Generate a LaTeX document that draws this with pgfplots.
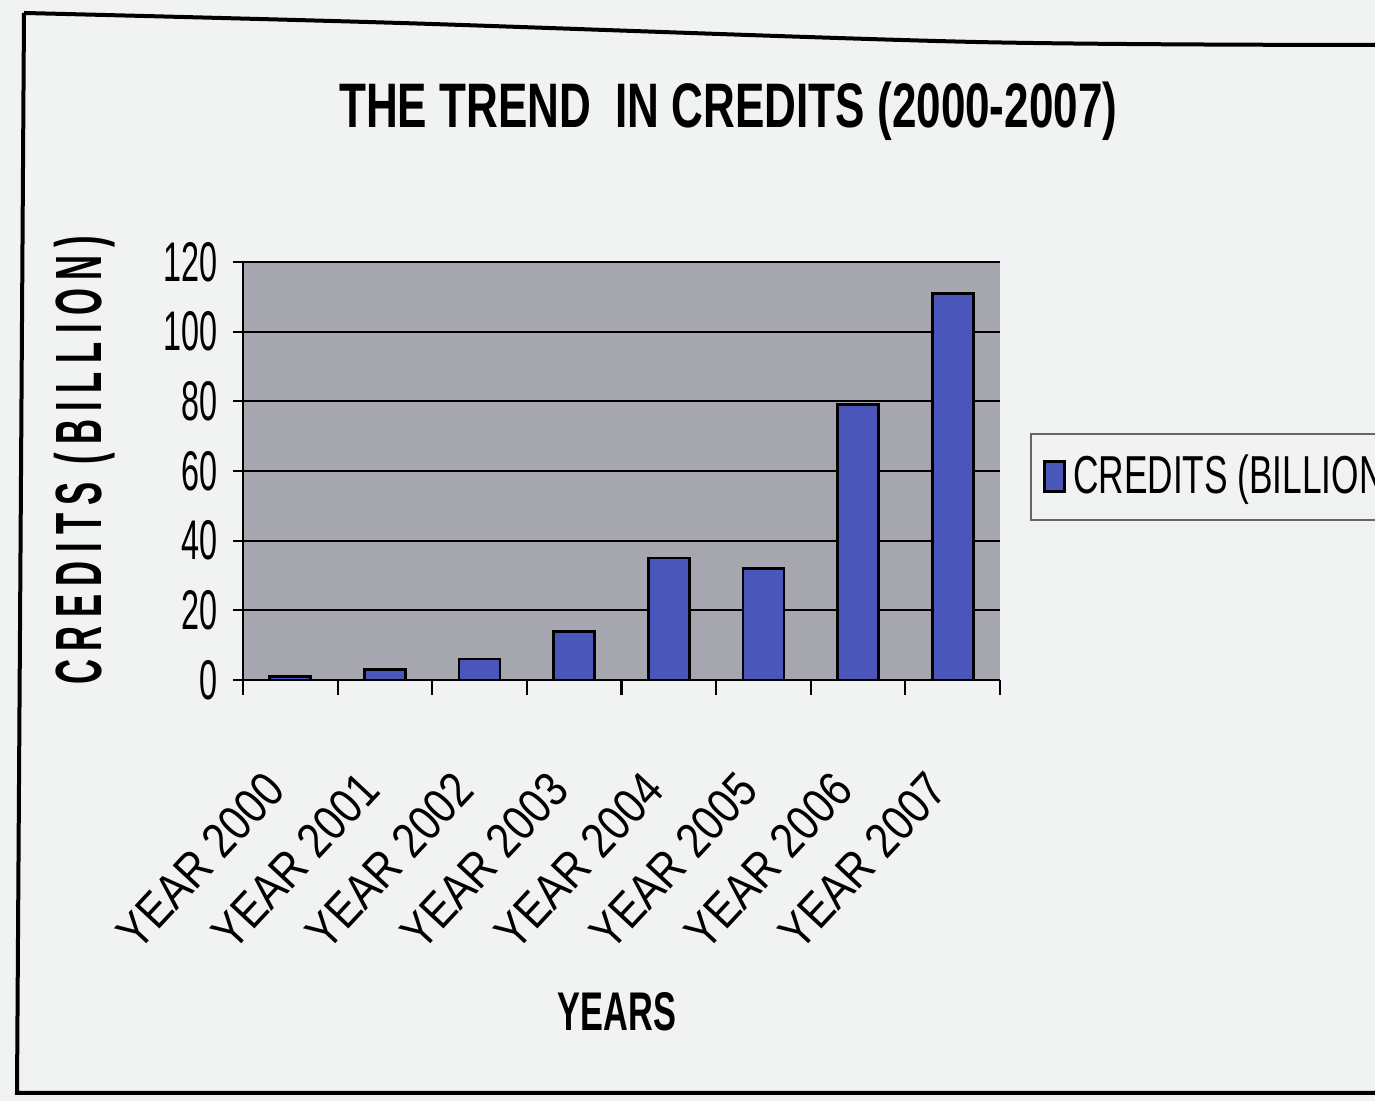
\documentclass[border=0pt]{standalone}
\usepackage{fontspec}
\usepackage{pgfplots}
\pgfplotsset{compat=1.18}
\setmainfont{Liberation Sans}
\newfontfamily\tickf[FakeStretch=0.58]{Liberation Sans}
\newfontfamily\xtickf[FakeStretch=0.85]{Liberation Sans}
\newfontfamily\legf[FakeStretch=0.66]{Liberation Sans}
\newfontfamily\titf[FakeStretch=0.70]{Liberation Sans}
\newfontfamily\xlabf[FakeStretch=0.63]{Liberation Sans}
\newfontfamily\ylabf[FakeStretch=0.53, LetterSpace=12.8]{Liberation Sans}
\definecolor{bgc}{RGB}{241,243,242}
\definecolor{plotgray}{RGB}{166,167,174}
\definecolor{barblue}{RGB}{74,86,186}
\begin{document}
\begin{tikzpicture}
\clip (0,0) rectangle (13.75,11.01);
\fill[bgc] (0,0) rectangle (13.75,11.01);
\draw[black, line width=0.04cm] plot[smooth] coordinates {(0.24,10.88) (4.0,10.78) (9.75,10.59) (13.80,10.56)};
\draw[black, line width=0.04cm] (0.24,10.88) -- (0.17,0.08) -- (13.80,0.08);
\begin{axis}[
  at={(2.43cm,4.21cm)}, anchor=south west,
  width=7.57cm, height=4.18cm, scale only axis,
  ybar, bar width=0.41cm,
  xmin=-0.5, xmax=7.5, ymin=0, ymax=120,
  ytick={0,20,...,120},
  xtick={0,...,7},
  xticklabels={YEAR 2000,YEAR 2001,YEAR 2002,YEAR 2003,YEAR 2004,YEAR 2005,YEAR 2006,YEAR 2007},
  minor xtick={-0.5,0.5,...,7.5},
  major x tick style={draw=none},
  minor tick length=0.15cm,
  major tick length=0.10cm,
  tick align=outside,
  tick style={black, line width=0.6pt},
  axis lines*=left,
  axis line style={black, line width=0.7pt},
  ymajorgrids,
  grid style={black, line width=0.6pt},
  axis background/.style={fill=plotgray},
  /pgf/number format/assume math mode=true,
  yticklabel style={font=\tickf\fontsize{15.9}{18}\selectfont, inner sep=0pt, xshift=-0.15cm},
  xticklabel style={font=\xtickf\fontsize{14}{17}\selectfont, xshift=-0.28cm, yshift=-0.78cm, rotate=47, anchor=north east, inner sep=0pt},
  title={THE TREND\ \ IN CREDITS (2000-2007)},
  title style={font=\titf\bfseries\fontsize{17.9}{20}\selectfont, at={(axis description cs:0.641,1.311)}, anchor=center, yshift=0pt},
  xlabel={YEARS},
  xlabel style={font=\xlabf\bfseries\fontsize{15.5}{18}\selectfont, at={(axis description cs:0.494,-0.794)}, anchor=center},
  ylabel={CREDITS (BILLION)},
  ylabel style={font=\ylabf\bfseries\fontsize{18.6}{20}\selectfont, at={(axis description cs:-0.209,0.526)}, anchor=center},
  legend style={at={(axis description cs:1.04,0.486)}, anchor=west,
    draw=black!60, line width=0.6pt, fill=bgc,
    font=\legf\fontsize{15.2}{18}\selectfont,
    inner xsep=0.12cm, inner ysep=0.14cm},
  legend image code/.code={\draw[#1] (0cm,-0.15cm) rectangle (0.2cm,0.15cm);},
]
\addplot[fill=barblue, draw=black, line width=0.8pt] coordinates {
  (0,1) (1,3) (2,6) (3,14) (4,35) (5,32) (6,79) (7,111)
};
\addlegendentry{CREDITS (BILLION)}
\end{axis}
\end{tikzpicture}
\end{document}
